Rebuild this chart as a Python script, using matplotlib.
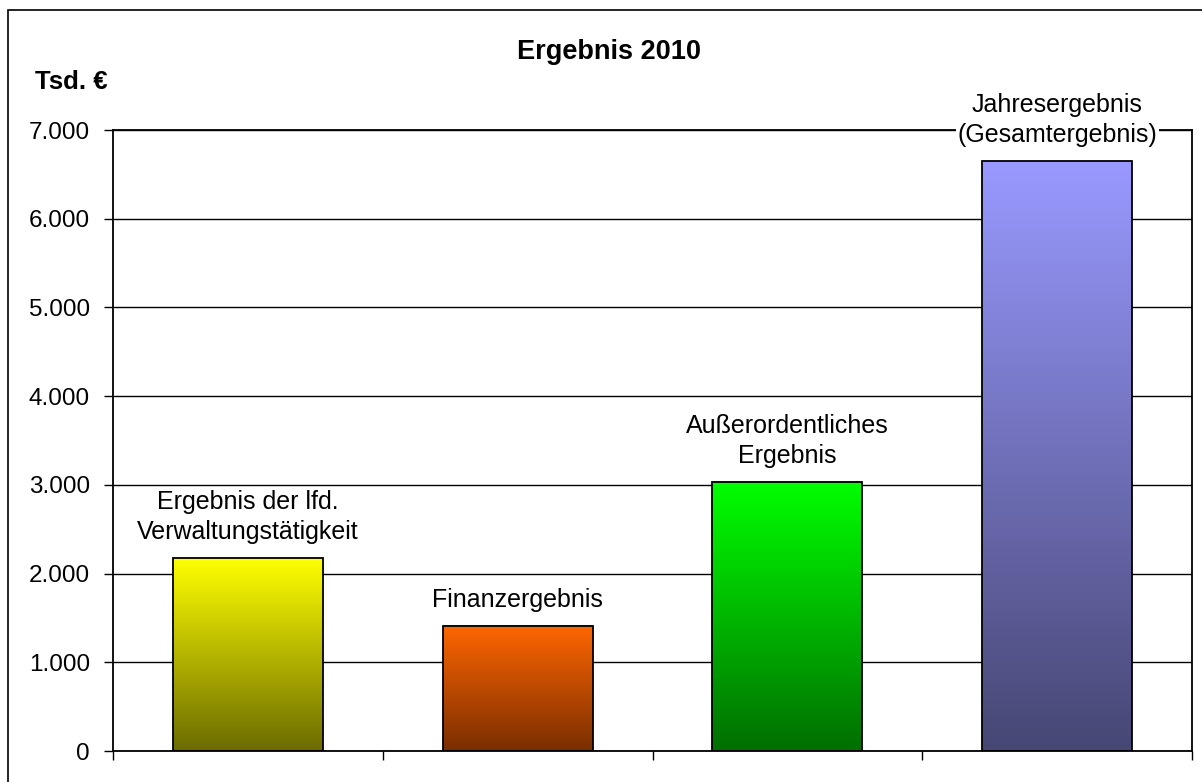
import matplotlib
matplotlib.use("Agg")
import matplotlib.pyplot as plt
import numpy as np
from matplotlib.colors import LinearSegmentedColormap
from matplotlib.patches import Rectangle

plt.rcParams['font.family'] = ['Liberation Sans', 'DejaVu Sans']

categories = ["Ergebnis der lfd.\nVerwaltungstätigkeit", "Finanzergebnis",
              "Außerordentliches\nErgebnis", "Jahresergebnis\n(Gesamtergebnis)"]
values = [2175, 1410, 3035, 6650]
top_colors = ["#FFFF00", "#FF6600", "#00FF00", "#9999FF"]
bottom_colors = ["#6B6B00", "#7A2E00", "#006F00", "#474774"]
yticks = [0, 1000, 2000, 3000, 4000, 5000, 6000, 7000]
yticklabels = ["0", "1.000", "2.000", "3.000", "4.000", "5.000", "6.000", "7.000"]
title = "Ergebnis 2010"
unit = "Tsd. €"

W, H = 1202, 782
fig = plt.figure(figsize=(W / 100, H / 100), dpi=100)
ax = fig.add_axes([113 / W, (H - 751) / H, 1079 / W, 621 / H])

# outer border
fig.patches.append(Rectangle((8 / W, -0.1), 1.2, (H - 10) / H + 0.1,
                             transform=fig.transFigure, fill=False,
                             edgecolor="black", lw=1.2))

x = np.arange(len(categories))
bw = 0.556
ax.set_xlim(-0.5, len(categories) - 0.5)
ax.set_ylim(0, 7000)

grad = np.linspace(0, 1, 256).reshape(-1, 1)
for i, (v, tc, bc) in enumerate(zip(values, top_colors, bottom_colors)):
    cmap = LinearSegmentedColormap.from_list(f"g{i}", [bc, tc])
    ax.imshow(grad, extent=[x[i] - bw / 2, x[i] + bw / 2, 0, v], origin="lower",
              aspect="auto", cmap=cmap, zorder=2)
    ax.bar(x[i], v, width=bw, facecolor="none", edgecolor="black", lw=1.3, zorder=3)
    ax.annotate(categories[i], (x[i], v), xytext=(0, 10), textcoords="offset points",
                ha="center", va="bottom", fontsize=18, linespacing=1.3,
                bbox=dict(facecolor="white", edgecolor="none", pad=1), zorder=4)

ax.set_yticks(yticks)
ax.set_yticklabels(yticklabels, fontsize=17.5)
ax.yaxis.grid(True, color="black", lw=1, zorder=1)
ax.set_axisbelow(True)
ax.set_xticks(np.arange(len(categories) + 1) - 0.5)
ax.set_xticklabels([])
ax.tick_params(axis="both", direction="out", length=6.5, width=1, color="black")
ax.tick_params(axis="y", pad=10)
for s in ["left", "bottom", "top", "right"]:
    ax.spines[s].set_linewidth(1.3)
    ax.spines[s].set_color("black")

fig.text(609 / W, 1 - 52 / H, title, ha="center", va="center", fontsize=19.5, fontweight="bold")
fig.text(35 / W, 1 - 82 / H, unit, ha="left", va="center", fontsize=18.5, fontweight="bold")

fig.savefig("out.png", dpi=100)
